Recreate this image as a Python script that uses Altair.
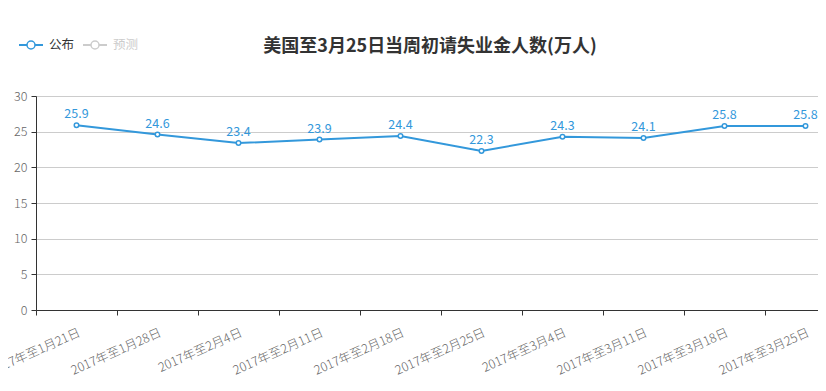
import json
import altair as alt
import pandas as pd

categories = ["2017年至1月21日", "2017年至1月28日", "2017年至2月4日", "2017年至2月11日",
              "2017年至2月18日", "2017年至2月25日", "2017年至3月4日", "2017年至3月11日",
              "2017年至3月18日", "2017年至3月25日"]
values = [25.9, 24.6, 23.4, 23.9, 24.4, 22.3, 24.3, 24.1, 25.8, 25.8]
y_ticks = [0, 5, 10, 15, 20, 25, 30]
title_text = "美国至3月25日当周初请失业金人数(万人)"
legend_names = ["公布", "预测"]

BLUE = "#3398DB"
FONT = "Noto Sans CJK SC"
W, H = 782, 214

df = pd.DataFrame({"idx": list(range(len(categories))), "cat": categories, "val": values})

tick_vals = []
for i in range(len(categories)):
    tick_vals += [i - 0.5, i]
label_expr = ("datum.value % 1 === 0 ? " + json.dumps(categories, ensure_ascii=False)
              + "[datum.value] : ''")

xscale = alt.Scale(domain=[-0.5, W / 81.0 - 0.5], nice=False, zero=False)
yscale = alt.Scale(domain=[0, 30], nice=False)

xaxis = alt.Axis(values=tick_vals, labelExpr=label_expr, labelAngle=-24, labelAlign="right",
                 labelBaseline="top", labelPadding=11, labelOverlap=False, labelBound=False,
                 labelFlush=False, labelColor="#666", labelFont=FONT, labelFontSize=12.5,
                 labelFontWeight=300,
                 tickSize=5, tickColor="#333",
                 tickOpacity={"condition": {"test": "datum.value % 1 !== 0", "value": 1}, "value": 0},
                 domainColor="#333", domainWidth=1, grid=False, title=None)
yaxis = alt.Axis(values=y_ticks, grid=True, gridColor="#ccc", gridWidth=1, labelOverlap=False,
                 domainColor="#333", tickColor="#333", tickSize=5, labelColor="#666",
                 labelFont=FONT, labelFontSize=12.5, labelFontWeight=300, labelPadding=4, title=None)

X = alt.X("idx:Q", scale=xscale, axis=xaxis)
Y = alt.Y("val:Q", scale=yscale, axis=yaxis)

base = alt.Chart(df)
line = base.mark_line(color=BLUE, strokeWidth=2).encode(x=X, y=Y)
pts = base.mark_point(shape="circle", filled=True, fill="white", stroke=BLUE, strokeWidth=1.5,
                      size=20, opacity=1).encode(x=X, y=Y)
labels = base.mark_text(color=BLUE, font=FONT, fontSize=12.5, baseline="bottom", dy=-4).encode(
    x=X, y=Y, text=alt.Text("val:Q", format=".1f"))

title = alt.Chart(pd.DataFrame({"t": [title_text]})).mark_text(
    font=FONT, fontSize=18, fontWeight="bold", color="#333", baseline="middle", align="center"
).encode(x=alt.value(394), y=alt.value(-49), text="t:N")

leg_layers = []
leg_df = pd.DataFrame({"n": legend_names})
for i, (name, lc, tc, x0) in enumerate([(legend_names[0], BLUE, "#333", -17),
                                         (legend_names[1], "#ccc", "#ccc", 47)]):
    d = alt.Chart(leg_df.iloc[[i]])
    leg_layers.append(d.mark_rule(color=lc, strokeWidth=2).encode(
        x=alt.value(x0), x2=alt.value(x0 + 24), y=alt.value(-51)))
    leg_layers.append(d.mark_point(shape="circle", filled=True, fill="white", stroke=lc,
                                   strokeWidth=1.5, size=64, opacity=1).encode(
        x=alt.value(x0 + 12), y=alt.value(-51)))
    leg_layers.append(d.mark_text(font=FONT, fontSize=12.5, color=tc, align="left",
                                  baseline="middle").encode(
        x=alt.value(x0 + 30), y=alt.value(-51), text="n:N"))

chart = alt.layer(line, pts, labels, title, *leg_layers).properties(
    width=W, height=H,
    autosize=alt.AutoSizeParams(type="none"),
    padding={"left": 28, "top": 88, "right": 0, "bottom": 70},
).configure_view(stroke=None).configure(background="white")

chart.save("out.html", embed_options={"renderer": "svg", "actions": False})
